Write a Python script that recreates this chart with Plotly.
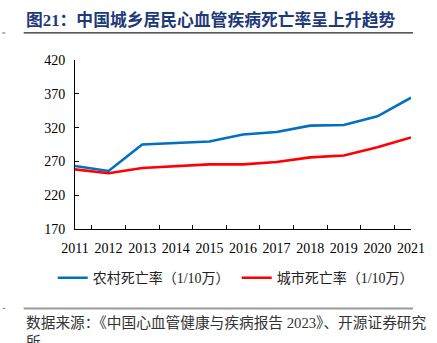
import plotly.graph_objects as go

years = ["2011", "2012", "2013", "2014", "2015", "2016", "2017", "2018", "2019", "2020", "2021"]
rural = [263.1, 255.8, 295.0, 297.5, 299.4, 309.7, 313.6, 322.9, 323.9, 336.7, 364.2]
urban = [258.2, 252.4, 260.2, 263.1, 265.6, 265.6, 269.0, 275.9, 278.8, 291.0, 305.4]
y_ticks = [170, 220, 270, 320, 370, 420]

title_text = "图21：中国城乡居民心血管疾病死亡率呈上升趋势"
source_text = "数据来源：《中国心血管健康与疾病报告 2023》、开源证券研究<br>所"

FONT = "Liberation Serif, Noto Sans CJK SC, serif"

fig = go.Figure()
fig.add_trace(go.Scatter(x=years, y=rural, mode="lines", name="农村死亡率（1/10万）",
                         line=dict(color="#0070C0", width=2.6)))
fig.add_trace(go.Scatter(x=years, y=urban, mode="lines", name="城市死亡率（1/10万）",
                         line=dict(color="#FF0000", width=2.6)))

W, H = 437, 343
L, R, T, B = 75, 15, 59.5, 113.5
pw = W - L - R
ph = H - T - B

def px(x):
    return (x - L) / pw

def py(y):
    return (H - B - y) / ph

fig.update_layout(
    width=W, height=H,
    margin=dict(l=L, r=R, t=T, b=B),
    paper_bgcolor="white", plot_bgcolor="white",
    font=dict(family=FONT, size=14, color="#000000"),
    showlegend=True,
    legend=dict(orientation="h", x=px(52), y=py(279), xanchor="left", yanchor="middle",
                font=dict(family=FONT, size=14, color="#222222"),
                entrywidth=139, entrywidthmode="pixels", tracegroupgap=0,
                bgcolor="rgba(0,0,0,0)", itemclick=False),
    xaxis=dict(type="category", showgrid=False, showline=True, linecolor="#000000", linewidth=1,
               ticks="inside", ticklen=4, tickcolor="#000000", tickson="boundaries",
               tickangle=0, ticklabelstandoff=6,
               tickfont=dict(family=FONT, size=14, color="#000000"), zeroline=False,
               fixedrange=True),
    yaxis=dict(range=[170, 420], tickvals=y_ticks, showgrid=False, showline=True,
               linecolor="#000000", linewidth=1, ticks="inside", ticklen=4, tickcolor="#000000",
               tickfont=dict(family=FONT, size=14, color="#000000"), zeroline=False,
               ticklabelstandoff=6, fixedrange=True),
)

# title
fig.add_annotation(text="<b>" + title_text + "</b>", xref="paper", yref="paper",
                   x=px(22), y=py(19), xanchor="left", yanchor="middle", showarrow=False,
                   font=dict(family=FONT, size=16.8, color="#1F3A78"))
fig.add_shape(type="line", xref="paper", yref="paper", x0=px(22), x1=px(424), y0=py(32.3), y1=py(32.3),
              line=dict(color="#222222", width=1.2))
fig.add_shape(type="line", xref="paper", yref="paper", x0=px(0), x1=px(3), y0=py(32.3), y1=py(32.3),
              line=dict(color="#666666", width=1))
# bottom rule
fig.add_shape(type="line", xref="paper", yref="paper", x0=px(22), x1=px(424), y0=py(309.5), y1=py(309.5),
              line=dict(color="#999999", width=2))
fig.add_shape(type="line", xref="paper", yref="paper", x0=px(0), x1=px(3), y0=py(309.5), y1=py(309.5),
              line=dict(color="#888888", width=1))
# source
fig.add_annotation(text=source_text, xref="paper", yref="paper",
                   x=px(22), y=py(314), xanchor="left", yanchor="top", showarrow=False, align="left",
                   font=dict(family=FONT, size=14.7, color="#333333"))

fig.write_html("out.html")
